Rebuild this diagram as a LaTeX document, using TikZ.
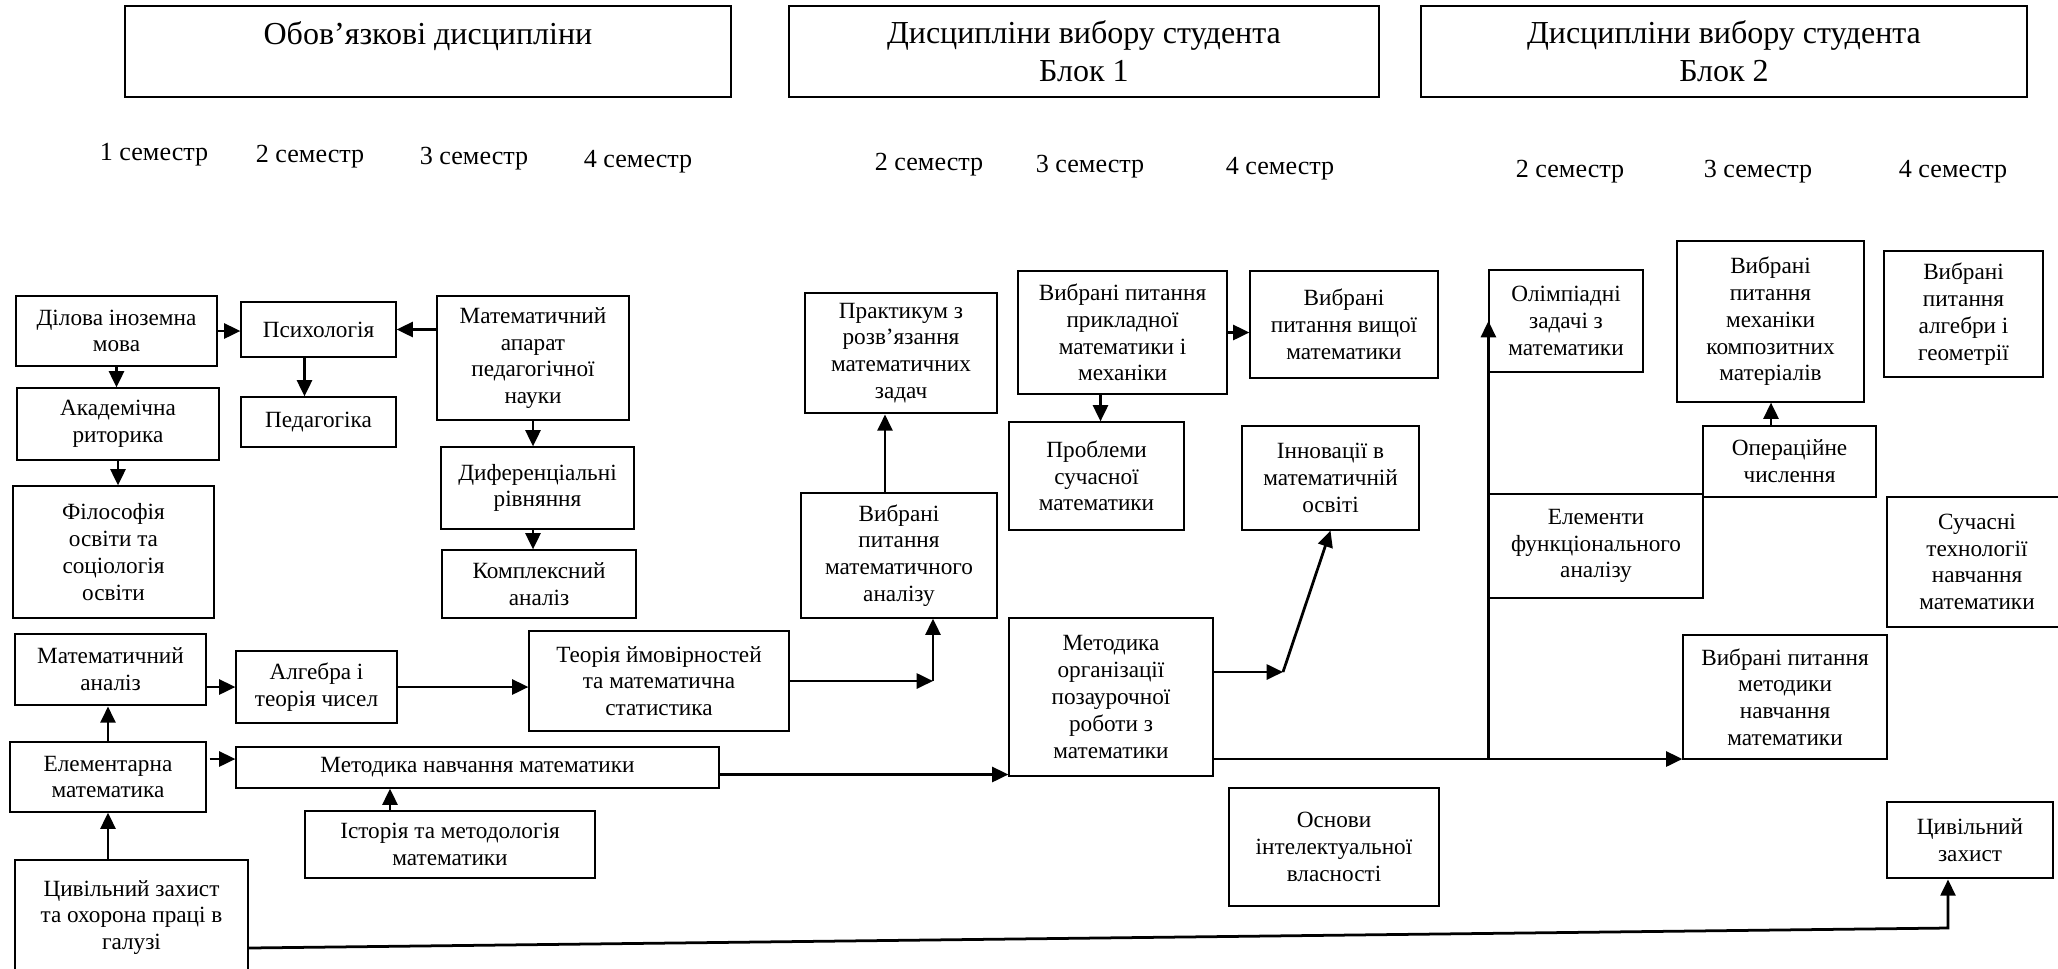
\documentclass[tikz,border=0pt]{standalone}
\usepackage{fontspec}
\setmainfont{Liberation Serif}
\usetikzlibrary{arrows.meta,calc}
\newlength\ux \setlength\ux{0.381pt}
\begin{document}
\begin{tikzpicture}[x=0.381pt,y=-0.381pt,
  bx/.style={draw, line width=0.45pt, inner sep=0pt, align=center, font=\fontsize{8.85}{10.2}\selectfont},
  thickbx/.style={bx, line width=1.1pt},
  sz/.style 2 args={minimum width=#1*\ux, minimum height=#2*\ux},
  hdr/.style={draw, line width=0.45pt, inner sep=0pt, align=center, font=\fontsize{12.2}{14.6}\selectfont},
  hdrtxt/.style={inner sep=0pt, align=center, font=\fontsize{12.2}{14.6}\selectfont},
  sem/.style={inner sep=0pt, font=\fontsize{9.95}{12}\selectfont},
  arr/.style={line width=1.05pt, -{Triangle[length=6.2pt,width=5.7pt]}},
  ln/.style={line width=1.05pt}
]
\useasboundingbox (0,0) rectangle (2058,968);
\fill[white] (0,0) rectangle (2058,968);

% headers
\node[hdr, sz={606}{91}] (h1) at (428,51.5) {};
\node[hdrtxt] (h1t) at (428,36) {Обов’язкові дисципліни};
\node[hdr, sz={590}{91}] (h2) at (1084,51.5) {Дисципліни вибору студента\\Блок 1};
\node[hdr, sz={606}{91}] (h3) at (1724,51.5) {Дисципліни вибору студента\\Блок 2};

% semesters
\node[sem] (s1) at (154,155) {1 семестр};
\node[sem] (s2) at (310,157) {2 семестр};
\node[sem] (s3) at (474,159) {3 семестр};
\node[sem] (s4) at (638,162) {4 семестр};
\node[sem] (s5) at (929,165) {2 семестр};
\node[sem] (s6) at (1090,167) {3 семестр};
\node[sem] (s7) at (1280,169) {4 семестр};
\node[sem] (s8) at (1570,172) {2 семестр};
\node[sem] (s9) at (1758,172) {3 семестр};
\node[sem] (s10) at (1953,172) {4 семестр};

% left block
\node[bx, sz={201}{70}] (dilova) at (116.5,331) {Ділова іноземна\\мова};
\node[bx, sz={202}{72}] (akad) at (118,424) {Академічна\\риторика};
\node[bx, sz={201}{132}] (filos) at (113.5,552) {Філософія\\освіти та\\соціологія\\освіти};
\node[bx, sz={155}{55}] (psy) at (318.5,329.5) {Психологія};
\node[bx, sz={155}{50}] (ped) at (318.5,422) {Педагогіка};
\node[thickbx, sz={192}{124}] (mapar) at (533,358) {Математичний\\апарат\\педагогічної\\науки};
\node[bx, sz={193}{82}] (difr) at (537.5,488) {Диференціальні\\рівняння};
\node[bx, sz={194}{68}] (kompl) at (539,584) {Комплексний\\аналіз};
\node[thickbx, sz={191}{71}] (matan) at (110.5,669.5) {Математичний\\аналіз};
\node[bx, sz={161}{72}] (algebra) at (316.5,687) {Алгебра і\\теорія чисел};
\node[bx, sz={260}{100}] (teorimov) at (659,681) {Теорія ймовірностей\\та математична\\статистика};
\node[bx, sz={196}{70}] (elem) at (108,777) {Елементарна\\математика};
\node[bx, sz={483}{41}] (metnavch) at (477.5,767.5) {Методика навчання математики};
\node[bx, sz={290}{67}] (istor) at (450,844.5) {Історія та методологія\\математики};
\node[bx, sz={233}{115}] (cyvil1) at (131.5,917.5) {Цивільний захист\\та охорона праці в\\галузі};

% block 1
\node[thickbx, sz={192}{120}] (prakt) at (901,353) {Практикум з\\розв’язання\\математичних\\задач};
\node[bx, sz={196}{125}] (vybmatan) at (899,555.5) {Вибрані\\питання\\математичного\\аналізу};
\node[bx, sz={209}{123}] (prykl) at (1122.5,332.5) {Вибрані питання\\прикладної\\математики і\\механіки};
\node[bx, sz={188}{107}] (vyshch) at (1344,324.5) {Вибрані\\питання вищої\\математики};
\node[bx, sz={175}{108}] (probl) at (1096.5,476) {Проблеми\\сучасної\\математики};
\node[bx, sz={177}{104}] (innov) at (1330.5,478) {Інновації в\\математичній\\освіті};
\node[bx, sz={204}{158}] (metorg) at (1111,697) {Методика\\організації\\позаурочної\\роботи з\\математики};
\node[bx, sz={210}{118}] (osnovy) at (1334,847) {Основи\\інтелектуальної\\власності};

% block 2
\node[bx, sz={154}{102}] (olimp) at (1566,321) {Олімпіадні\\задачі з\\математики};
\node[bx, sz={187}{161}] (mekh) at (1770.5,321.5) {Вибрані\\питання\\механіки\\композитних\\матеріалів};
\node[bx, sz={159}{126}] (alggeom) at (1963.5,314) {Вибрані\\питання\\алгебри і\\геометрії};
\node[bx, sz={173}{71}] (operac) at (1789.5,461.5) {Операційне\\числення};
\node[bx, sz={214}{104}] (elemfunk) at (1596,546) {Елементи\\функціонального\\аналізу};
\node[bx, sz={180}{130}] (suchasni) at (1977,562) {Сучасні\\технології\\навчання\\математики};
\node[bx, sz={204}{124}] (vybmetod) at (1785,697) {Вибрані питання\\методики\\навчання\\математики};
\node[thickbx, sz={166}{76}] (cyvil2) at (1970,840) {Цивільний\\захист};

% connectors, left block
\draw[arr] (dilova.south) -- (dilova.south |- akad.north);
\draw[arr] (akad.south) -- (akad.south |- filos.north);
\draw[arr] (dilova.east) -- (dilova.east -| psy.west);
\draw[arr] (mapar.west |- psy.east) -- (psy.east);
\path ($(psy.south)+(-14,0)$) coordinate (p0);
\draw[arr] (p0) -- (p0 |- ped.north);
\draw[arr] (mapar.south) -- (mapar.south |- difr.north);
\draw[arr] (mapar.south |- difr.south) -- (mapar.south |- kompl.north);
\draw[arr] (matan.east |- algebra.west) -- (algebra.west);
\draw[arr] (algebra.east) -- (teorimov.west |- algebra.east);
\coordinate (c1) at (933,681);
\draw[arr] (teorimov.east) -- (c1);
\draw[arr] (c1) -- (c1 |- vybmatan.south);
\draw[arr] (elem.north) -- (elem.north |- matan.south);
\path ($(elem.east)+(3,-18)$) coordinate (e1);
\draw[arr] (e1) -- (e1 -| metnavch.west);
\path ($(metnavch.east)+(0,7)$) coordinate (m1);
\draw[arr] (m1) -- (m1 -| metorg.west);
\path ($(istor.north)+(-60,0)$) coordinate (i1);
\draw[arr] (i1) -- (i1 |- metnavch.south);
\draw[arr] (elem.south |- cyvil1.north) -- (elem.south);
\path ($(cyvil1.east)+(0,30.5)$) coordinate (cz1);
\coordinate (cz2) at (1948,928);
\draw[arr] (cz1) -- (cz2) -- (cz2 |- cyvil2.south);

% connectors, block 1
\path ($(vybmatan.north)+(-14,0)$) coordinate (v0);
\draw[arr] (v0) -- (v0 |- prakt.south);
\draw[arr] (prykl.east) -- (vyshch.west |- prykl.east);
\path ($(prykl.south)+(-22,0)$) coordinate (p1);
\draw[arr] (p1) -- (p1 |- probl.north);
\path ($(metorg.east)+(0,-25)$) coordinate (o1);
\coordinate (o2) at (1283,672);
\draw[arr] (o1) -- (o2);
\draw[arr] (o2) -- (innov.south);
\path ($(metorg.east)+(0,62)$) coordinate (o3);
\draw[arr] (o3) -- (o3 -| vybmetod.west);

% connectors, block 2
\draw[arr] (o3 -| olimp.west) -- (olimp.west);
\path ($(operac.north)+(-18.5,0)$) coordinate (q1);
\draw[arr] (q1) -- (q1 |- mekh.south);
\end{tikzpicture}
\end{document}
